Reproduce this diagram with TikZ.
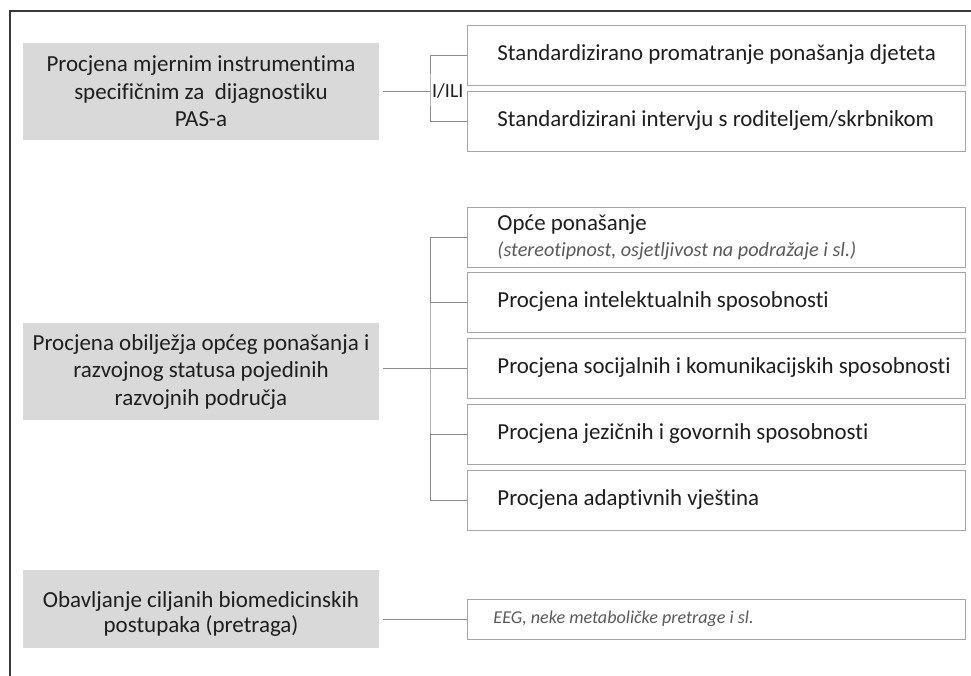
\documentclass[tikz,border=0pt]{standalone}
\usepackage{fontspec}
\setmainfont[Ligatures=NoCommon]{Carlito}
\definecolor{framec}{HTML}{3A3A3A}
\definecolor{grayfill}{HTML}{D9D9D9}
\definecolor{boxline}{HTML}{A6A6A6}
\definecolor{connc}{HTML}{8C8C8C}
\definecolor{txt}{HTML}{1E1E1E}
\definecolor{subtxt}{HTML}{5A5A5A}
\begin{document}
\begin{tikzpicture}[x=1pt,y=-1pt,
  graybox/.style={fill=grayfill, draw=none, minimum width=356pt, align=center, text=txt, font=\fontsize{23}{27.5}\selectfont, inner sep=0pt},
  wbox/.style={draw=boxline, line width=0.9pt, fill=white, minimum width=498pt, minimum height=60pt, text width=438pt, inner xsep=30pt, inner ysep=0pt, align=flush left, text=txt, font=\fontsize{22.9}{27}\selectfont},
  conn/.style={draw=connc, line width=0.9pt}]
\useasboundingbox (0,0) rectangle (971,676);
\draw[framec, line width=1.3pt] (10,676) -- (10,11) -- (971,11);

% group 1
\node[graybox, minimum height=97pt] (g1) at (201,91.5) {Procjena mjernim instrumentima\\specifičnim za\ \ dijagnostiku\\PAS-a};
\node[wbox, anchor=west] (a1) at (467,55) {\mbox{Standardizirano promatranje ponašanja djeteta}};
\node[wbox, anchor=west] (a2) at (467,121) {\mbox{Standardizirani intervju s roditeljem/skrbnikom}};
\coordinate (j1) at (430,91);
\draw[conn] ([xshift=4pt]g1.east |- j1) -- (j1);
\draw[conn] (a1.west) -| (j1) |- (a2.west);
\node[anchor=west, inner sep=0pt, text=txt, font=\fontsize{20}{22}\selectfont] (or) at (432,91) {I/ILI};

% group 2
\node[graybox, minimum height=97pt] (g2) at (201,371.5) {Procjena obilježja općeg ponašanja i\\razvojnog statusa pojedinih\\razvojnih područja};
\node[wbox, anchor=west] (b1) at (467,237) {\mbox{Opće ponašanje}\\[-1pt]{\fontsize{20.2}{22}\selectfont\itshape\color{subtxt}\mbox{(stereotipnost, osjetljivost na podražaje i sl.)}}};
\node[wbox, anchor=west] (b2) at (467,302) {\mbox{Procjena intelektualnih sposobnosti}};
\node[wbox, anchor=west] (b3) at (467,368) {\mbox{Procjena socijalnih i komunikacijskih sposobnosti}};
\node[wbox, anchor=west] (b4) at (467,434) {\mbox{Procjena jezičnih i govornih sposobnosti}};
\node[wbox, anchor=west] (b5) at (467,500) {\mbox{Procjena adaptivnih vještina}};
\coordinate (j2) at (430,368);
\draw[conn] ([xshift=4pt]g2.east |- b3.west) -- (b3.west);
\draw[conn] (b1.west) -| (j2) |- (b5.west);
\draw[conn] (b2.west) -- (b2.west -| j2);
\draw[conn] (b4.west) -- (b4.west -| j2);

% group 3
\node[graybox, minimum height=78pt] (g3) at (201,609) {};
\node[align=center, inner sep=0pt, text=txt, font=\fontsize{23}{25}\selectfont] (g3t) at (201,614) {Obavljanje ciljanih biomedicinskih\\postupaka (pretraga)};
\node[wbox, anchor=west, minimum height=40pt, inner xsep=26pt, text width=446pt, font=\fontsize{18.1}{20}\selectfont\itshape, text=subtxt] (c1) at (467,619) {EEG, neke metaboličke pretrage i sl.};
\draw[conn] ([xshift=4pt]g3.east |- c1.west) -- (c1.west);
\end{tikzpicture}
\end{document}
